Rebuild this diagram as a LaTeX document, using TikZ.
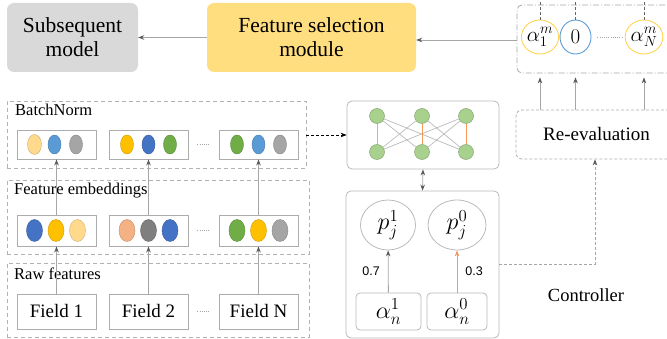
\documentclass[tikz,border=0pt]{standalone}
\usepackage{fix-cm}
\usepackage{amsmath}
\usepackage{fontspec}
\setmainfont{Liberation Serif}
\newfontfamily\numfont{Liberation Sans}
\usetikzlibrary{arrows.meta,calc,positioning,shapes.geometric}

\definecolor{boxgray}{RGB}{217,217,217}
\definecolor{selyellow}{RGB}{255,222,128}
\definecolor{embgold}{RGB}{255,192,0}
\definecolor{embpale}{RGB}{255,217,140}
\definecolor{embblue}{RGB}{68,114,196}
\definecolor{embsky}{RGB}{91,155,213}
\definecolor{embgray}{RGB}{165,165,165}
\definecolor{embgreen}{RGB}{112,173,71}
\definecolor{embsalmon}{RGB}{244,177,131}
\definecolor{embdark}{RGB}{127,127,127}
\definecolor{netgreen}{RGB}{169,209,142}
\definecolor{linkorange}{RGB}{244,151,90}
\definecolor{ringgold}{RGB}{255,210,80}

\begin{document}
\begin{tikzpicture}[x=1pt,y=-1pt,
  every node/.style={inner sep=0pt},
  tip/.style={-{Stealth[length=6pt,width=4.5pt,color=black!65]}},
  link/.style={tip,gray!70,line width=0.8pt},
  panel/.style={draw=gray!60,dash pattern=on 4pt off 3pt,line width=0.8pt},
  vec/.style={draw=gray!65,line width=0.9pt,minimum width=79pt},
  emb/.style={ellipse,fill=#1,draw=#1!80!black,line width=0.4pt},
  small/.style={minimum width=13pt,minimum height=19pt},
  large/.style={minimum width=16pt,minimum height=22pt},
  label/.style={anchor=north west,font=\fontsize{16.5}{18}\selectfont},
  big/.style={font=\fontsize{21.5}{24}\selectfont,align=center,rounded corners=7pt},
  plain/.style={font=\fontsize{19}{21}\selectfont},
  soft/.style={draw=gray!55,line width=0.8pt,rounded corners=5pt},
  dots/.style={gray!70,dash pattern=on 1pt off 1.2pt,line width=0.8pt},
  neuron/.style={circle,fill=netgreen,draw=netgreen!80!black,line width=0.5pt,minimum size=15pt},
  ring/.style={ellipse,draw=#1,line width=0.9pt,minimum width=28pt,minimum height=34pt,font=\fontsize{21}{23}\selectfont},
  mathfont/.style={font=\fontsize{24}{26}\selectfont}]
\useasboundingbox (0,0) rectangle (667,339);

% top row
\node[big,fill=boxgray,minimum width=131pt,minimum height=69pt] (subseq) at (72.5,37.5) {Subsequent\\model};
\node[big,fill=selyellow,minimum width=209pt,minimum height=69pt] (select) at (311.5,37.5) {Feature selection\\module};
\node[draw=gray!70,line width=0.8pt,dash pattern=on 6pt off 2pt on 1pt off 2pt,rounded corners=5pt,
  minimum width=164pt,minimum height=68pt] (alphas) at (599,39) {};
\node[ring=ringgold] (am1) at (540,37) {$\alpha_1^m$};
\node[ring=embsky,minimum width=31pt] (am0) at (575.5,37) {$0$};
\node[ring=ringgold] (amN) at (644,37) {$\alpha_N^m$};
\draw[dots] ($(am0.east)+(6,0)$) -- ($(amN.west)+(-3,0)$);
\foreach \n in {am1,am0,amN}
  \draw[gray!80!black,dash pattern=on 3pt off 2pt,line width=0.7pt] (\n.north) -- ++(0,-22);
\draw[link] (alphas.west |- 0,40) -- (select.east |- 0,40);
\draw[link] (select.west) -- (subseq.east);

% left stack
\node[panel,minimum width=299pt,minimum height=67pt] (bnpanel) at (156.5,134.5) {};
\node[label] (bntext) at (15,104) {BatchNorm};
\node[panel,minimum width=302pt,minimum height=74pt] (embpanel) at (158,217) {};
\node[label] (embtext) at (14,183) {Feature embeddings};
\node[panel,minimum width=302pt,minimum height=74pt] (rawpanel) at (158,300) {};
\node[label] (rawtext) at (14,268) {Raw features};

\node[vec,minimum height=29pt] (b1) at (56.5,144.5) {};
\node[vec,minimum height=29pt] (b2) at (148.5,144.5) {};
\node[vec,minimum height=29pt] (b3) at (258.5,144.5) {};
\node[vec,minimum height=31pt] (e1) at (56.5,230.5) {};
\node[vec,minimum height=31pt] (e2) at (148.5,230.5) {};
\node[vec,minimum height=31pt] (e3) at (258.5,230.5) {};
\node[vec,plain,minimum height=35pt] (f1) at (56.5,311.5) {Field 1};
\node[vec,plain,minimum height=35pt] (f2) at (148.5,311.5) {Field 2};
\node[vec,plain,minimum height=35pt] (f3) at (258.5,311.5) {Field N};

% embedding dots: group / first offset / colours / size
\node[emb=embpale,minimum width=14pt,minimum height=20pt] at ($(b1)+(-22,0)$) {};
\foreach \grp/\start/\cols/\sz in {b1/-2/{embsky,embgray}/small,
    b2/-21.5/{embgold,embblue,embgreen}/small, b3/-21.5/{embgreen,embsky,embgray}/small,
    e1/-22/{embblue,embgold,embpale}/large, e2/-21.5/{embsalmon,embdark,embblue}/large,
    e3/-21.5/{embgreen,embgold,embgray}/large}
  \foreach \c [count=\k] in \cols {
    \pgfmathsetmacro{\off}{\start+(\k-1)*21.5}
    \node[emb=\c,\sz] at ($(\grp)+(\off,0)$) {};
  }
\foreach \r in {b,e,f}
  \draw[dots] ($(\r2.east)!0.3!(\r3.west)$) -- ($(\r2.east)!0.7!(\r3.west)$);
\foreach \i in {1,2,3} {
  \draw[link] (f\i) -- (e\i);
  \draw[link] (e\i) -- (b\i);
}

% network and controller
\node[soft,minimum width=152pt,minimum height=68pt] (net) at (423,135) {};
\foreach \i/\x in {1/377,2/422,3/466} {
  \node[neuron] (t\i) at (\x,116) {};
  \node[neuron] (u\i) at (\x,152) {};
}
\foreach \i in {1,2,3}
  \foreach \j in {1,2,3}
    \draw[gray!55,line width=0.7pt] (t\i) -- (u\j);
\draw[linkorange,line width=0.8pt] (t2) -- (u2);
\draw[linkorange,line width=0.8pt] (t3) -- (u3);
\draw[-{Stealth[length=6pt,width=4.5pt]},black,densely dashed,line width=0.7pt] (bnpanel.east |- net) -- (net.west);

\node[soft,minimum width=153pt,minimum height=147pt] (ctrl) at (422.5,264.5) {};
\draw[{Stealth[length=6pt,width=4.5pt,color=black!65]}-{Stealth[length=6pt,width=4.5pt,color=black!65]},gray!70,line width=0.8pt]
  (net.south) -- (ctrl.north);
\node[ellipse,draw=gray!55,line width=0.8pt,minimum width=55pt,minimum height=50pt,mathfont] (p1) at (388,225) {$p_j^1$};
\node[ellipse,draw=gray!55,line width=0.8pt,minimum width=58pt,minimum height=50pt,mathfont] (p0) at (457,225) {$p_j^0$};
\node[soft,rounded corners=4pt,minimum width=65pt,minimum height=37pt,mathfont] (an1) at (388.5,311.5) {$\alpha_n^1$};
\node[soft,rounded corners=4pt,minimum width=60pt,minimum height=37pt,mathfont] (an0) at (457,311.5) {$\alpha_n^0$};
\draw[link] (an1) -- (p1) node[pos=0.5,left=8pt,font=\numfont\fontsize{12.5}{14}\selectfont,text=black] {0.7};
\draw[-{Stealth[length=6pt,width=4.5pt]},linkorange,line width=0.8pt] (an0) -- (p0)
  node[pos=0.5,right=8pt,font=\numfont\fontsize{12.5}{14}\selectfont,text=black] {0.3};
\node[plain,font=\fontsize{18.5}{20}\selectfont] (ctrltext) at (586,295) {Controller};

% re-evaluation
\node[draw=gray!65,dash pattern=on 3pt off 2pt,line width=0.8pt,rounded corners=6pt,
  minimum width=164pt,minimum height=49pt,plain] (reeval) at (598,134.5) {\hspace*{-3pt}Re-evaluation};
\foreach \n in {am1,am0,amN}
  \draw[link,shorten >=4pt] (reeval.north -| \n) -- (alphas.south -| \n);
\draw[link,dash pattern=on 3pt off 2pt] (ctrl.east) -| ($(reeval.south)+(-3,0)$);
\end{tikzpicture}
\end{document}
